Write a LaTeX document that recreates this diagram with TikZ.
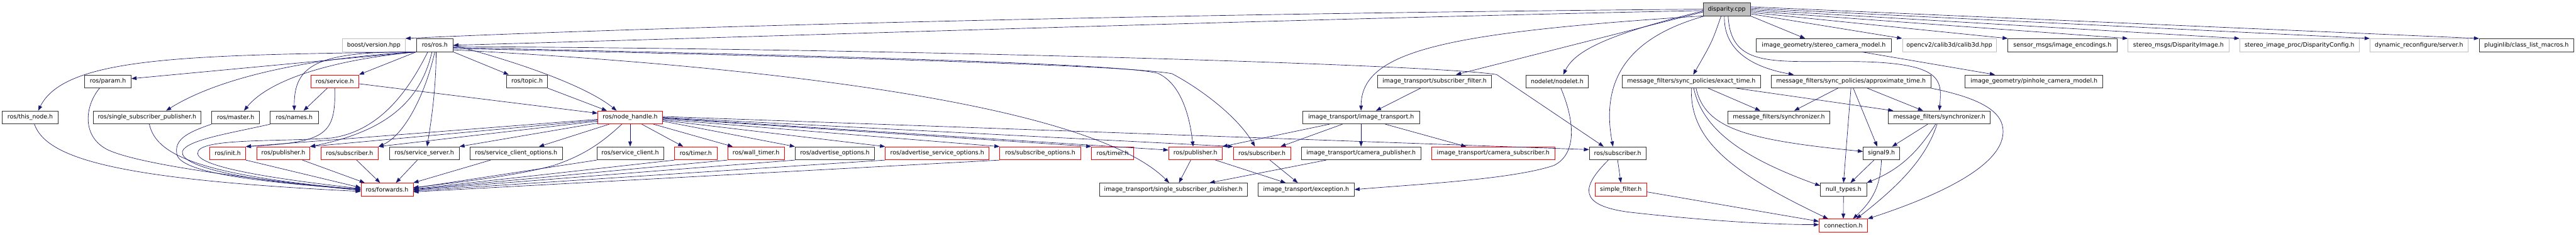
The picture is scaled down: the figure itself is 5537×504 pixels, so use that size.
\documentclass[tikz,border=0pt]{standalone}
\usepackage{fontspec}
\setmainfont{DejaVu Sans}
\usetikzlibrary{arrows.meta}

\definecolor{edgeblue}{HTML}{191970}
\definecolor{extgray}{HTML}{BFBFBF}
\definecolor{cutred}{HTML}{FF0000}

\begin{document}
\begin{tikzpicture}[x=1pt, y=-1pt,
    box/.style={rectangle, minimum height=28pt, inner xsep=0pt, inner ysep=0pt,
      line width=1pt, font=\fontsize{12.8}{15}\selectfont},
    hdr/.style={box, draw=black!80, minimum width=#1},
    cut/.style={box, draw=cutred, minimum width=#1},
    ext/.style={box, draw=extgray, minimum width=#1},
    src/.style={box, draw=black!80, fill=extgray, minimum width=#1},
    inc/.style={-{Triangle[length=11pt, width=8pt]}, line width=0.9pt, draw=edgeblue},
  ]

  \useasboundingbox (0,0) rectangle (5537,504);

  % ---- root ----
  \node[src=101pt] (disp) at (3711.5,19.7) {disparity.cpp};

  % ---- row 1 ----
  \node[ext=135pt] (boost) at (803.5,97) {boost/version.hpp};
  \node[hdr=79pt] (ros) at (934.5,97) {ros/ros.h};
  \node[hdr=290pt] (stereocam) at (3920,97) {image\_geometry/stereo\_camera\_model.h};
  \node[ext=202pt] (calib) at (4190,97) {opencv2/calib3d/calib3d.hpp};
  \node[hdr=234pt] (enc) at (4433,97) {sensor\_msgs/image\_encodings.h};
  \node[ext=217pt] (dispimg) at (4682.5,97) {stereo\_msgs/DisparityImage.h};
  \node[ext=257pt] (dispcfg) at (4942.5,97) {stereo\_image\_proc/DisparityConfig.h};
  \node[ext=211pt] (dynsrv) at (5199.5,97) {dynamic\_reconfigure/server.h};
  \node[hdr=203pt] (plugin) at (5430.5,97) {pluginlib/class\_list\_macros.h};

  % ---- row 2 ----
  \node[hdr=100pt] (param) at (232,174.7) {ros/param.h};
  \node[cut=103pt] (service) at (719.5,174.7) {ros/service.h};
  \node[hdr=88pt] (topic) at (1133,174.7) {ros/topic.h};
  \node[hdr=245pt] (subfilter) at (3083.5,174.7) {image\_transport/subscriber\_filter.h};
  \node[hdr=134pt] (nodelet) at (3347,174.7) {nodelet/nodelet.h};
  \node[hdr=297pt] (exact) at (3635.5,174.7) {message\_filters/sync\_policies/exact\_time.h};
  \node[hdr=343pt] (approx) at (3978.5,174.7) {message\_filters/sync\_policies/approximate\_time.h};
  \node[hdr=296pt] (pinhole) at (4372,174.7) {image\_geometry/pinhole\_camera\_model.h};

  % ---- row 3 ----
  \node[hdr=120pt] (thisnode) at (65,252) {ros/this\_node.h};
  \node[hdr=232pt] (sspub) at (316,252) {ros/single\_subscriber\_publisher.h};
  \node[hdr=103pt] (master) at (506.5,252) {ros/master.h};
  \node[hdr=103pt] (names) at (632.5,252) {ros/names.h};
  \node[cut=139pt] (nh) at (1354.5,252) {ros/node\_handle.h};
  \node[hdr=251pt] (itrans) at (2925.5,252) {image\_transport/image\_transport.h};
  \node[hdr=219pt] (sync1) at (3823.5,252) {message\_filters/synchronizer.h};
  \node[hdr=219pt] (sync2) at (4168.5,252) {message\_filters/synchronizer.h};

  % ---- row 4 ----
  \node[cut=77pt] (init) at (489.5,329) {ros/init.h};
  \node[cut=114pt] (pub1) at (609,329) {ros/publisher.h};
  \node[cut=123pt] (sub1) at (751.5,329) {ros/subscriber.h};
  \node[hdr=150pt] (srvserver) at (912,329) {ros/service\_server.h};
  \node[hdr=199pt] (srvclopt) at (1109.5,329) {ros/service\_client\_options.h};
  \node[hdr=143pt] (srvclient) at (1354.5,329) {ros/service\_client.h};
  \node[cut=91pt] (timer1) at (1495.5,329) {ros/timer.h};
  \node[cut=122pt] (walltimer) at (1625,329) {ros/wall\_timer.h};
  \node[hdr=171pt] (advopt) at (1794.5,329) {ros/advertise\_options.h};
  \node[cut=223pt] (advsrvopt) at (2014.5,329) {ros/advertise\_service\_options.h};
  \node[cut=174pt] (subopt) at (2236,329) {ros/subscribe\_options.h};
  \node[cut=91pt] (timer2) at (2391.5,329) {ros/timer.h};
  \node[cut=115pt] (pub2) at (2569.5,329) {ros/publisher.h};
  \node[cut=123pt] (sub2) at (2712.5,329) {ros/subscriber.h};
  \node[hdr=257pt] (campub) at (2925.5,329) {image\_transport/camera\_publisher.h};
  \node[cut=265pt] (camsub) at (3209.5,329) {image\_transport/camera\_subscriber.h};
  \node[hdr=122pt] (rossub) at (3477,329) {ros/subscriber.h};
  \node[hdr=78pt] (signal9) at (4044,329) {signal9.h};

  % ---- row 5 ----
  \node[cut=112pt] (forwards) at (832,406.7) {ros/forwards.h};
  \node[hdr=318pt] (itsspub) at (2522,406.7) {image\_transport/single\_subscriber\_publisher.h};
  \node[hdr=207pt] (exception) at (2807.5,406.7) {image\_transport/exception.h};
  \node[cut=110pt] (simplefilter) at (3484,406.7) {simple\_filter.h};
  \node[hdr=99pt] (nulltypes) at (3962.5,406.7) {null\_types.h};

  % ---- row 6 ----
  \node[cut=104pt] (connection) at (3962,484) {connection.h};

  % ---- disparity.cpp ----
  \draw[inc] (disp.west) .. controls (2400,30) and (1300,62) .. (boost.north east);
  \draw[inc] ([yshift=-3pt]disp.west) .. controls (2800,40) and (1600,80) .. (ros.east);
  \draw[inc] (disp.south west) .. controls (3100,70) and (2926,110) .. (itrans.north);
  \draw[inc] ([yshift=-6pt]disp.west) -- ([xshift=46pt]subfilter.north);
  \draw[inc] ([yshift=-4pt]disp.west) .. controls (3450,75) and (3385,110) .. ([xshift=13pt]nodelet.north);
  \draw[inc] ([xshift=4pt]disp.south west) .. controls (3500,80) and (3440,170) .. ([xshift=-10pt]rossub.north);
  \draw[inc] ([xshift=-12pt]disp.south) .. controls (3680,90) .. ([xshift=4pt]exact.north);
  \draw[inc] ([xshift=-5pt]disp.south) .. controls (3704,110) and (3770,145) .. ([xshift=-123pt]approx.north);
  \draw[inc] (disp.south east) -- ([xshift=-40pt]stereocam.north);
  \draw[inc] ([xshift=3pt]disp.south) .. controls (3720,140) and (3800,132) .. (3950,132)
    .. controls (4180,130) and (4174,170) .. (sync2.north);
  \draw[inc] ([yshift=-10pt]disp.east) -- (calib.north west);
  \draw[inc] ([yshift=-7pt]disp.east) -- (enc.north west);
  \draw[inc] ([yshift=-4pt]disp.east) -- (dispimg.north west);
  \draw[inc] ([yshift=-1pt]disp.east) -- (dispcfg.north west);
  \draw[inc] ([yshift=2pt]disp.east) -- (dynsrv.north west);
  \draw[inc] ([yshift=5pt]disp.east) -- (plugin.north west);

  % ---- ros/ros.h ----
  \draw[inc] (ros.south west) .. controls (400,118) and (140,122) .. ([xshift=17pt]thisnode.north);
  \draw[inc] (ros.south west) -- ([yshift=6pt]param.east);
  \draw[inc] (ros.south west) .. controls (600,128) and (440,185) .. ([xshift=41pt]sspub.north);
  \draw[inc] (ros.south west) .. controls (700,130) and (575,175) .. ([xshift=18pt]master.north);
  \draw[inc] (ros.south west) .. controls (680,110) and (632,140) .. (names.north);
  \draw[inc] (ros.south west) -- (service.north east);
  \draw[inc] ([xshift=-15pt]ros.south) .. controls (880,190) and (820,280) .. (713,296)
    .. controls (600,305) and (420,295) .. (425,330)
    .. controls (430,360) and (600,385) .. ([yshift=2pt]forwards.west);
  \draw[inc] ([xshift=-6pt]ros.south) .. controls (905,210) and (840,280) .. (pub1.north east);
  \draw[inc] (ros.south) .. controls (915,200) and (870,290) .. (sub1.north east);
  \draw[inc] ([xshift=3pt]ros.south) .. controls (937,200) and (925,270) .. ([xshift=6pt]srvserver.north);
  \draw[inc] (ros.south east) -- ([xshift=5pt]topic.north west);
  \draw[inc] (ros.east) .. controls (1120,135) and (1260,185) .. ([xshift=-29pt]nh.north);
  \draw[inc] ([yshift=-3pt]ros.east) .. controls (2000,105) and (3100,140) .. (3217,160)
    -- ([xshift=-30pt]rossub.north);
  \draw[inc] ([yshift=-5pt]ros.east) .. controls (1700,118) and (2400,135) .. (2488,157)
    .. controls (2530,175) and (2555,230) .. ([xshift=-5pt]pub2.north);
  \draw[inc] ([yshift=-7pt]ros.east) .. controls (1800,122) and (2420,140) .. (2519,158)
    .. controls (2580,190) and (2660,250) .. ([xshift=-15pt]sub2.north);
  \draw[inc] ([yshift=-10pt]ros.east) .. controls (1700,145) and (2350,230) .. ([xshift=-9pt]itsspub.north);

  % ---- ros/topic.h, ros/service.h ----
  \draw[inc] (topic.south east) -- ([xshift=-50pt]nh.north);
  \draw[inc] ([xshift=-16pt]service.south) -- ([xshift=20pt]names.north);
  \draw[inc] ([yshift=-5pt]service.east) -- ([yshift=9pt]nh.west);
  \draw[inc] (service.south) .. controls (722,290) and (700,305) .. (init.north east);

  % ---- ros/node_handle.h ----
  \draw[inc] ([yshift=-4pt]nh.west) -- (init.north east);
  \draw[inc] ([yshift=-6pt]nh.west) -- (pub1.north east);
  \draw[inc] ([yshift=-8pt]nh.west) -- (sub1.north east);
  \draw[inc] ([yshift=-12pt]nh.west) -- (srvserver.north east);
  \draw[inc] ([xshift=-45pt]nh.south) -- ([xshift=49pt]srvclopt.north);
  \draw[inc] ([xshift=-18pt]nh.south) .. controls (1290,310) and (1250,335) .. (1190,355)
    .. controls (1100,380) and (950,395) .. ([yshift=4pt]forwards.east);
  \draw[inc] (nh) -- (srvclient);
  \draw[inc] ([xshift=25pt]nh.south) -- ([xshift=-27pt]timer1.north);
  \draw[inc] ([xshift=50pt]nh.south) -- ([xshift=-50pt]walltimer.north);
  \draw[inc] ([yshift=-8pt]nh.east) -- (advopt.north west);
  \draw[inc] ([yshift=-6pt]nh.east) -- (advsrvopt.north west);
  \draw[inc] ([yshift=-4pt]nh.east) -- (subopt.north west);
  \draw[inc] ([yshift=-2pt]nh.east) -- (timer2.north west);
  \draw[inc] ([yshift=-1pt]nh.east) -- ([yshift=7pt]pub2.west);
  \draw[inc] (nh.east) -- (sub2.north west);
  \draw[inc] ([yshift=2pt]nh.east) -- ([yshift=8pt]rossub.west);

  % ---- into ros/forwards.h ----
  \draw[inc] (init.south east) -- ([yshift=4pt]forwards.west);
  \draw[inc] ([xshift=41pt]pub1.south) -- ([xshift=-48pt]forwards.north);
  \draw[inc] ([xshift=15pt]sub1.south) -- ([xshift=-15pt]forwards.north);
  \draw[inc] ([xshift=-15pt]srvserver.south) -- ([xshift=19pt]forwards.north);
  \draw[inc] ([xshift=-55pt]srvclopt.south) -- (forwards.north east);
  \draw[inc] (srvclient.south west) -- ([yshift=3pt]forwards.east);
  \draw[inc] (timer1.south west) -- ([yshift=1pt]forwards.east);
  \draw[inc] (walltimer.south west) -- (forwards.east);
  \draw[inc] (advopt.south west) -- ([yshift=-1pt]forwards.east);
  \draw[inc] (advsrvopt.south west) -- ([yshift=-3pt]forwards.east);
  \draw[inc] (subopt.south west) -- ([yshift=-5pt]forwards.east);
  \draw[inc] ([xshift=9pt]thisnode.south) .. controls (100,340) and (250,385) .. ([yshift=-4pt]forwards.west);
  \draw[inc] ([xshift=-18pt]param.south) .. controls (180,230) and (175,300) .. (240,325)
    .. controls (330,360) and (600,390) .. ([yshift=-2pt]forwards.west);
  \draw[inc] ([xshift=5pt]sspub.south) .. controls (335,330) and (420,375) .. (forwards.west);
  \draw[inc] (master.south west) .. controls (400,285) and (375,300) .. (380,330)
    .. controls (385,370) and (550,390) .. (forwards.west);
  \draw[inc] (names.south west) .. controls (500,285) and (400,300) .. (392,325)
    .. controls (385,360) and (550,392) .. ([yshift=1pt]forwards.west);

  % ---- image_transport ----
  \draw[inc] ([xshift=-30pt]subfilter.south) -- ([xshift=32pt]itrans.north);
  \draw[inc] ([xshift=-68pt]itrans.south) -- (pub2.north east);
  \draw[inc] ([xshift=-40pt]itrans.south) -- ([xshift=40pt]sub2.north);
  \draw[inc] (itrans) -- (campub);
  \draw[inc] ([xshift=52pt]itrans.south) -- ([xshift=-58pt]camsub.north);
  \draw[inc] ([xshift=-10pt]pub2.south) -- ([xshift=12pt]itsspub.north);
  \draw[inc] ([xshift=43pt]pub2.south) -- ([xshift=-44pt]exception.north);
  \draw[inc] ([xshift=17pt]sub2.south) -- ([xshift=-18pt]exception.north);
  \draw[inc] ([xshift=-75pt]campub.south) -- ([xshift=78pt]itsspub.north);
  \draw[inc] ([xshift=8pt]nodelet.south) .. controls (3385,260) and (3390,330) .. (3340,355)
    .. controls (3250,385) and (3050,395) .. (exception.east);

  % ---- ros/subscriber.h ----
  \draw[inc] (rossub.south) -- (simplefilter.north);
  \draw[inc] ([xshift=-20pt]rossub.south) .. controls (3400,400) and (3390,440) .. (3500,455)
    .. controls (3650,472) and (3800,482) .. ([yshift=2pt]connection.west);
  \draw[inc] ([yshift=-5pt]simplefilter.east) -- ([yshift=9pt]connection.west);

  % ---- message_filters ----
  \draw[inc] ([xshift=36pt]exact.south) -- ([xshift=-40pt]sync1.north);
  \draw[inc] (exact.south) .. controls (3632,300) and (3720,370) .. ([xshift=20pt]connection.north west);
  \draw[inc] ([xshift=5pt]exact.south) .. controls (3660,280) and (3750,340) .. ([yshift=8pt]nulltypes.west);
  \draw[inc] ([xshift=10pt]exact.south) .. controls (3665,275) and (3750,300) .. ([yshift=4pt]signal9.west);
  \draw[inc] ([xshift=96pt]exact.south) -- ([xshift=11pt]sync2.north west);
  \draw[inc] ([xshift=-28pt]approx.south) -- ([xshift=33pt]sync1.north);
  \draw[inc] (approx.south) -- (nulltypes.north);
  \draw[inc] ([xshift=5pt]approx.south) -- ([xshift=-9pt]signal9.north);
  \draw[inc] ([xshift=35pt]approx.south) -- ([xshift=-35pt]sync2.north);
  \draw[inc] (approx.south east) .. controls (4280,215) and (4310,250) .. (4305,290)
    .. controls (4295,370) and (4120,435) .. (connection.north east);
  \draw[inc] ([xshift=-25pt]sync2.south) -- ([xshift=23pt]signal9.north);
  \draw[inc] ([xshift=-8pt]sync2.south) .. controls (4120,330) and (4080,365) .. (nulltypes.north east);
  \draw[inc] ([xshift=-5pt]sync2.south) .. controls (4140,340) and (4080,400) .. ([xshift=28pt]connection.north);
  \draw[inc] ([xshift=-16pt]signal9.south) -- ([xshift=15pt]nulltypes.north);
  \draw[inc] (signal9.south) .. controls (4042,400) and (4025,430) .. ([xshift=21pt]connection.north);
  \draw[inc] (nulltypes) -- (connection);
  \draw[inc] ([xshift=82pt]stereocam.south) -- ([xshift=-84pt]pinhole.north);

\end{tikzpicture}
\end{document}
